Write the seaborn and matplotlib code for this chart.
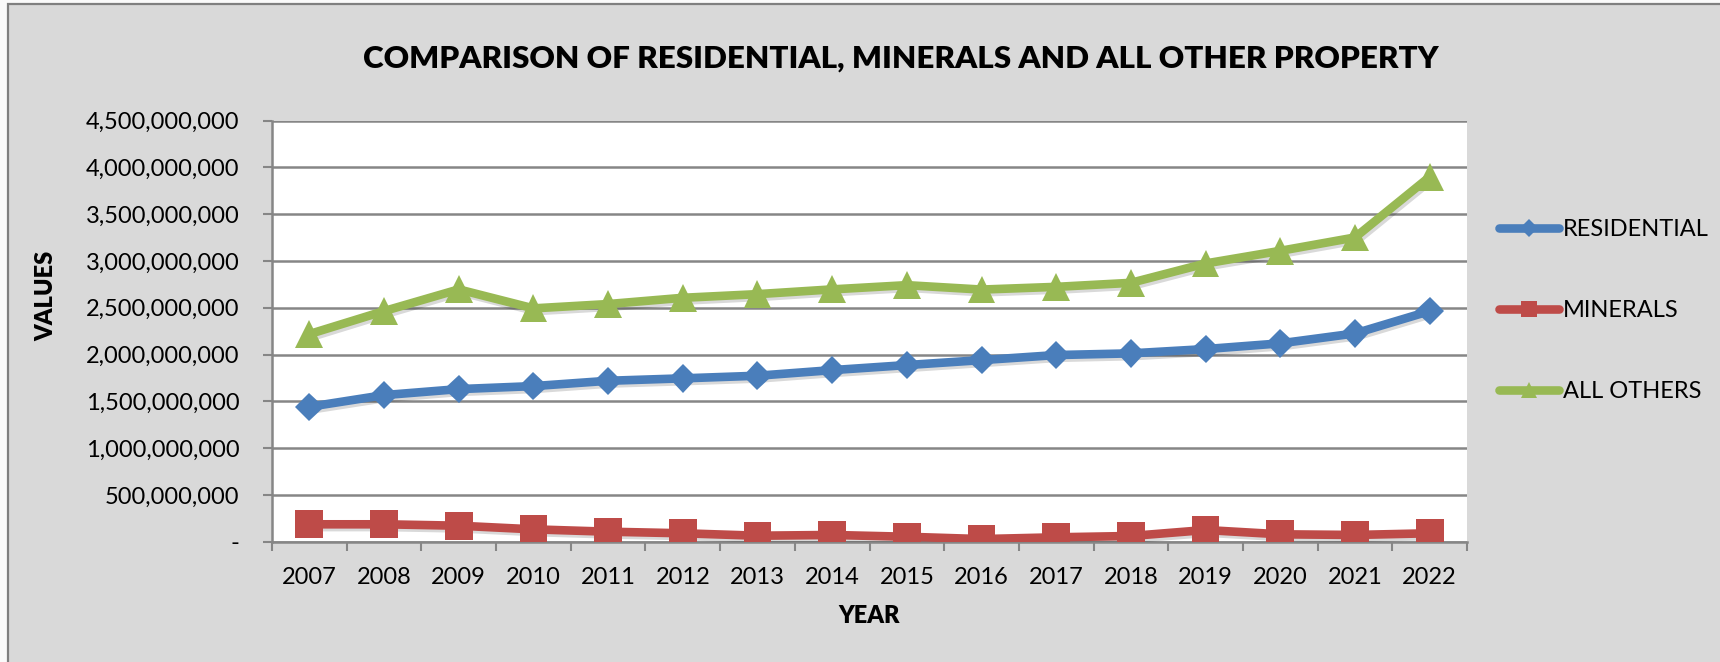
import matplotlib
matplotlib.use("Agg")
import seaborn as sns
import matplotlib.pyplot as plt
import matplotlib.patheffects as pe
import numpy as np
import pandas as pd
from matplotlib.ticker import FuncFormatter, MultipleLocator
from matplotlib.patches import Rectangle

# data
years = list(range(2007, 2023))
residential = [1.442e9, 1.567e9, 1.631e9, 1.663e9, 1.720e9, 1.746e9, 1.774e9, 1.834e9,
               1.888e9, 1.941e9, 1.995e9, 2.013e9, 2.059e9, 2.120e9, 2.226e9, 2.465e9]
minerals = [186e6, 186e6, 171e6, 132e6, 107e6, 90e6, 64e6, 72e6,
            53e6, 28e6, 47e6, 61e6, 125e6, 79e6, 72e6, 90e6]
all_others = [2.219e9, 2.465e9, 2.697e9, 2.494e9, 2.540e9, 2.607e9, 2.646e9, 2.697e9,
              2.742e9, 2.695e9, 2.724e9, 2.767e9, 2.974e9, 3.109e9, 3.252e9, 3.900e9]
series_names = ['RESIDENTIAL', 'MINERALS', 'ALL OTHERS']

df = pd.DataFrame({'YEAR': years, 'RESIDENTIAL': residential,
                   'MINERALS': minerals, 'ALL OTHERS': all_others})
df = df.melt(id_vars='YEAR', var_name='series', value_name='VALUES')

sns.set_style("white")
plt.rcParams['font.family'] = ['Lato', 'DejaVu Sans']
plt.rcParams['text.color'] = 'black'
plt.rcParams['xtick.color'] = 'black'
plt.rcParams['ytick.color'] = 'black'

W, H = 1720, 662
fig = plt.figure(figsize=(W / 100, H / 100), dpi=100, facecolor='#FAFAFA')
# chart area with grey frame
fig.patches.append(Rectangle((8 / W, -0.05), 1.2, 1 - 4 / H + 0.05, transform=fig.transFigure,
                             facecolor='#D9D9D9', edgecolor='#7F7F7F', linewidth=1.6, zorder=-10))

ax = fig.add_axes([272 / W, 1 - 541.7 / H, (1467 - 272) / W, (541.7 - 120.7) / H])
ax.set_facecolor('white')

palette = {'RESIDENTIAL': '#4A7EBB', 'MINERALS': '#BE4B48', 'ALL OTHERS': '#98B954'}
markers = {'RESIDENTIAL': 'D', 'MINERALS': 's', 'ALL OTHERS': '^'}
sizes = {'RESIDENTIAL': 14.5, 'MINERALS': 20, 'ALL OTHERS': 20}
shadow = [pe.SimpleLineShadow(offset=(1.5, -2), shadow_color='black', alpha=0.15), pe.Normal()]

for name in series_names:
    sns.lineplot(data=df[df['series'] == name], x='YEAR', y='VALUES', ax=ax,
                 color=palette[name], marker=markers[name], markersize=sizes[name],
                 markeredgewidth=0, linewidth=6.2, label=name, zorder=3,
                 path_effects=shadow)

ax.set_xlim(2006.5, 2022.5)
ax.set_ylim(0, 4.5e9)
ax.yaxis.set_major_locator(MultipleLocator(5e8))
ax.yaxis.set_major_formatter(FuncFormatter(lambda v, p: '-' if v == 0 else f'{int(v):,}'))
ax.set_xticks(years)
ax.set_xticks(np.arange(2006.5, 2023, 1), minor=True)
ax.grid(axis='y', color='#868686', linewidth=1.8, zorder=1)
ax.set_axisbelow(True)

for s in ['top', 'right']:
    ax.spines[s].set_visible(False)
for s in ['left', 'bottom']:
    ax.spines[s].set_color('#868686')
    ax.spines[s].set_linewidth(1.8)

ax.tick_params(axis='y', which='major', direction='out', length=6.5, width=1.5,
               color='#868686', pad=17, labelsize=17, left=True)
ax.tick_params(axis='x', which='major', length=0, pad=18, labelsize=17)
ax.tick_params(axis='x', which='minor', direction='out', length=6.5, width=1.5,
               color='#868686', bottom=True)

ax.set_xlabel('')
ax.set_ylabel('')
fig.text((272 + 1467) / 2 / W, 1 - 616 / H, 'YEAR', ha='center', va='center',
         fontsize=17, fontweight='heavy')
fig.text(46 / W, 1 - 296 / H, 'VALUES', ha='center', va='center', rotation=90,
         fontsize=17, fontweight='heavy')
fig.text(901 / W, 1 - 59 / H, 'COMPARISON OF RESIDENTIAL, MINERALS AND ALL OTHER PROPERTY',
         ha='center', va='center', fontsize=22.6, fontweight='heavy')

leg = ax.legend(loc='upper left', bbox_to_anchor=(1499 / W, 1 - 219 / H),
                bbox_transform=fig.transFigure, frameon=False, fontsize=17,
                handlelength=2.55, handletextpad=0.15, labelspacing=2.55,
                borderpad=0, borderaxespad=0, markerscale=0.6)
for h in leg.legend_handles:
    h.set_path_effects([])

fig.savefig('out.png', dpi=100, facecolor=fig.get_facecolor())
